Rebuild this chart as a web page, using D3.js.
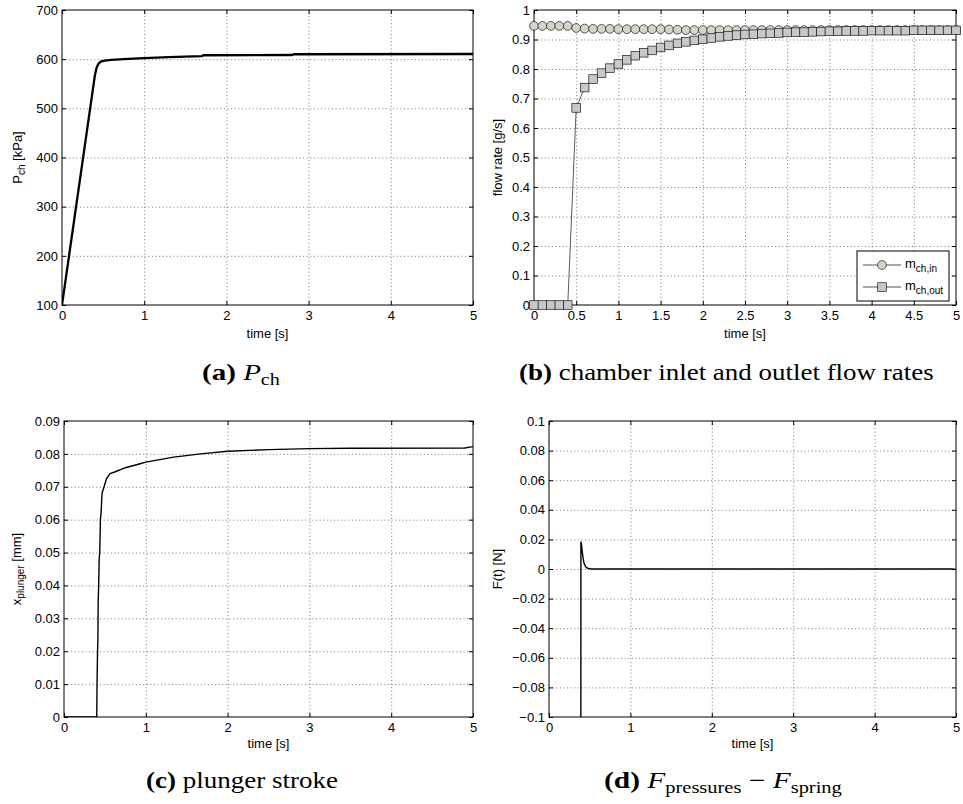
<!DOCTYPE html>
<html>
<head>
<meta charset="utf-8">
<script src="https://cdn.jsdelivr.net/npm/d3@7"></script>
<style>
  body { margin: 0; background: #fff; }
  svg { display: block; }
</style>
</head>
<body>
<svg id="fig" width="963" height="804"></svg>
<script>
// ---------- data ----------
// (a) chamber pressure [kPa] vs time [s]
const timeA = [0, 0.4, 0.42, 0.44, 0.47, 0.52, 0.6, 0.75, 1.0, 1.3, 1.7, 1.72, 2.8, 2.82, 5];
const pressA = [100, 567, 582, 590, 595, 597, 598.5, 600, 602, 604, 606, 608, 608.5, 610, 610.5];

// (b) chamber inlet / outlet flow rates [g/s], sampled every 0.1 s
const timeB = [0, 0.1, 0.2, 0.3, 0.4, 0.5, 0.6, 0.7, 0.8, 0.9,
               1.0, 1.1, 1.2, 1.3, 1.4, 1.5, 1.6, 1.7, 1.8, 1.9,
               2.0, 2.1, 2.2, 2.3, 2.4, 2.5, 2.6, 2.7, 2.8, 2.9,
               3.0, 3.1, 3.2, 3.3, 3.4, 3.5, 3.6, 3.7, 3.8, 3.9,
               4.0, 4.1, 4.2, 4.3, 4.4, 4.5, 4.6, 4.7, 4.8, 4.9, 5.0];
const flowIn = [0.946, 0.946, 0.946, 0.946, 0.946, 0.939, 0.937, 0.936, 0.936, 0.936,
                0.935, 0.935, 0.935, 0.935, 0.935, 0.935, 0.934, 0.933, 0.932, 0.932,
                0.932, 0.932, 0.932, 0.932, 0.932, 0.932, 0.932, 0.932, 0.932, 0.932,
                0.932, 0.932, 0.932, 0.932, 0.932, 0.932, 0.932, 0.932, 0.932, 0.932,
                0.932, 0.932, 0.932, 0.932, 0.932, 0.932, 0.932, 0.932, 0.932, 0.932, 0.932];
const flowOut = [0, 0, 0, 0, 0, 0.668, 0.737, 0.766, 0.786, 0.803,
                 0.817, 0.831, 0.845, 0.855, 0.863, 0.873, 0.880, 0.887, 0.892, 0.897,
                 0.901, 0.905, 0.909, 0.912, 0.915, 0.917, 0.918, 0.920, 0.921, 0.922,
                 0.924, 0.925, 0.925, 0.926, 0.927, 0.928, 0.928, 0.929, 0.929, 0.929,
                 0.930, 0.930, 0.930, 0.930, 0.930, 0.931, 0.931, 0.931, 0.931, 0.931, 0.931];

// (c) plunger stroke [mm]
const timeC = [0, 0.4, 0.401, 0.404, 0.41, 0.414, 0.418, 0.424, 0.43, 0.437, 0.445, 0.453, 0.465, 0.49, 0.52,
               0.563, 0.62, 0.75, 0.93, 1.0, 1.34, 1.67, 2.0, 2.5, 3.0, 3.5, 4.9, 5.0];
const strokeC = [0, 0, 0.002, 0.01, 0.02, 0.023, 0.035, 0.04, 0.048, 0.05, 0.06, 0.062, 0.068, 0.07, 0.0725,
                 0.074, 0.0745, 0.0758, 0.077, 0.0775, 0.079, 0.08, 0.0808, 0.0813, 0.0816, 0.0817, 0.0818, 0.0822];

// (d) net force F_pressures - F_spring [N]
const timeD = [0, 0.39, 0.392, 0.40, 0.41, 0.42, 0.43, 0.45, 0.48, 0.525, 4.95, 5.0];
const forceD = [-0.5, -0.5, 0.0185, 0.016, 0.011, 0.007, 0.004, 0.0015, 0.0003, 0, 0, -0.0003];

// tick values
const ticksAx = [0, 1, 2, 3, 4, 5];
const ticksAy = [100, 200, 300, 400, 500, 600, 700];
const ticksBx = [0, 0.5, 1, 1.5, 2, 2.5, 3, 3.5, 4, 4.5, 5];
const ticksBy = [0, 0.1, 0.2, 0.3, 0.4, 0.5, 0.6, 0.7, 0.8, 0.9, 1];
const ticksCx = [0, 1, 2, 3, 4, 5];
const ticksCy = [0, 0.01, 0.02, 0.03, 0.04, 0.05, 0.06, 0.07, 0.08, 0.09];
const ticksDx = [0, 1, 2, 3, 4, 5];
const ticksDy = [-0.1, -0.08, -0.06, -0.04, -0.02, 0, 0.02, 0.04, 0.06, 0.08, 0.1];

const legendLabels = [["m", "ch,in"], ["m", "ch,out"]];

// ---------- drawing ----------
const SANS = '"Liberation Sans", Arial, Helvetica, sans-serif';
const SERIF = '"Liberation Serif", "DejaVu Serif", serif';
const svg = d3.select("#fig");
const fmtNum = d => String(d).replace("-", "\u2212");

function makePanel(id, box, xDom, yDom, xTicks, yTicks) {
  const x = d3.scaleLinear().domain(xDom).range([box.l, box.r]);
  const y = d3.scaleLinear().domain(yDom).range([box.b, box.t]);
  const w = box.r - box.l, h = box.b - box.t;
  const g = svg.append("g").attr("class", "panel-" + id);

  // dotted grid
  const gx = g.append("g").attr("transform", `translate(0,${box.b})`)
    .call(d3.axisBottom(x).tickValues(xTicks.slice(1, -1)).tickSize(-h).tickFormat(""));
  const gy = g.append("g").attr("transform", `translate(${box.l},0)`)
    .call(d3.axisLeft(y).tickValues(yTicks.slice(1, -1)).tickSize(-w).tickFormat(""));
  [gx, gy].forEach(s => {
    s.select(".domain").remove();
    s.selectAll("line").attr("stroke", "#555").attr("stroke-width", 0.8).attr("stroke-dasharray", "1,2.6");
  });

  // frame
  g.append("rect").attr("x", box.l).attr("y", box.t).attr("width", w).attr("height", h)
    .attr("fill", "none").attr("stroke", "#000").attr("stroke-width", 1);

  // inward ticks on all four sides, labels bottom/left
  const axes = [
    g.append("g").attr("transform", `translate(0,${box.b})`)
      .call(d3.axisBottom(x).tickValues(xTicks).tickSizeInner(-4).tickSizeOuter(0).tickPadding(6).tickFormat(fmtNum)),
    g.append("g").attr("transform", `translate(${box.l},0)`)
      .call(d3.axisLeft(y).tickValues(yTicks).tickSizeInner(-4).tickSizeOuter(0).tickPadding(4).tickFormat(fmtNum)),
    g.append("g").attr("transform", `translate(0,${box.t})`)
      .call(d3.axisTop(x).tickValues(xTicks).tickSizeInner(-4).tickSizeOuter(0).tickFormat("")),
    g.append("g").attr("transform", `translate(${box.r},0)`)
      .call(d3.axisRight(y).tickValues(yTicks).tickSizeInner(-4).tickSizeOuter(0).tickFormat(""))
  ];
  axes.forEach(a => {
    a.select(".domain").remove();
    a.attr("font-family", SANS).attr("font-size", 13);
    a.selectAll("line").attr("stroke", "#000");
    a.selectAll("text").attr("fill", "#000");
  });

  g.append("clipPath").attr("id", "clip-" + id)
    .append("rect").attr("x", box.l).attr("y", box.t).attr("width", w).attr("height", h);

  return { x, y, g, box };
}

function xLabel(p, baseline) {
  p.g.append("text").attr("x", (p.box.l + p.box.r) / 2).attr("y", baseline)
    .attr("text-anchor", "middle").attr("font-family", SANS).attr("font-size", 13)
    .text("time [s]");
}

// rotated y label; parts: [text, isSubscript]
function yLabel(p, xBase, parts) {
  const cy = (p.box.t + p.box.b) / 2;
  const t = p.g.append("text")
    .attr("transform", `translate(${xBase},${cy}) rotate(-90)`)
    .attr("text-anchor", "middle").attr("font-family", SANS).attr("font-size", 13);
  let shifted = 0;
  parts.forEach(([s, sub]) => {
    const ts = t.append("tspan").text(s);
    if (sub) { ts.attr("font-size", 10).attr("dy", 3); shifted = 3; }
    else if (shifted) { ts.attr("dy", -shifted); shifted = 0; }
  });
}

// caption under a panel, fitted to a given width
function caption(x0, width, baseline, parts) {
  const t = svg.append("text").attr("font-family", SERIF).attr("font-size", 23).attr("fill", "#000");
  let shifted = 0;
  parts.forEach(p => {
    const ts = t.append("tspan").text(p.t);
    if (p.b) ts.attr("font-weight", "bold");
    if (p.i) ts.attr("font-style", "italic");
    if (p.sub) { ts.attr("font-size", 16).attr("dy", 5); shifted = 5; }
    else if (shifted) { ts.attr("dy", -shifted); shifted = 0; }
  });
  const bb = t.node().getBBox();
  const sx = width / bb.width;
  t.attr("transform", `translate(${x0 - bb.x * sx},${baseline}) scale(${sx},1)`);
}

// ---- (a) ----
const pA = makePanel("a", { l: 62, r: 473, t: 10, b: 305 }, [0, 5], [100, 700], ticksAx, ticksAy);
pA.g.append("path").datum(d3.zip(timeA, pressA))
  .attr("clip-path", "url(#clip-a)")
  .attr("fill", "none").attr("stroke", "#000").attr("stroke-width", 2.3).attr("stroke-linejoin", "round")
  .attr("d", d3.line().x(d => pA.x(d[0])).y(d => pA.y(d[1])));
xLabel(pA, 338);
yLabel(pA, 22, [["P", false], ["ch", true], [" [kPa]", false]]);

// ---- (b) ----
const pB = makePanel("b", { l: 534, r: 956, t: 10, b: 305 }, [0, 5], [0, 1], ticksBx, ticksBy);
const lineB = d3.line().x(d => pB.x(d[0])).y(d => pB.y(d[1]));
const seriesIn = d3.zip(timeB, flowIn);
const seriesOut = d3.zip(timeB, flowOut);
const circleFill = "#d7d3c8", squareFill = "#c8c8c8", edge = "#1a1a1a";
const R = 4.4, S = 8.6;

pB.g.append("path").datum(seriesIn).attr("fill", "none").attr("stroke", "#333").attr("stroke-width", 0.8).attr("d", lineB);
pB.g.append("g").selectAll("circle").data(seriesIn).join("circle")
  .attr("cx", d => pB.x(d[0])).attr("cy", d => pB.y(d[1])).attr("r", R)
  .attr("fill", circleFill).attr("stroke", edge).attr("stroke-width", 0.7);

pB.g.append("path").datum(seriesOut).attr("fill", "none").attr("stroke", "#333").attr("stroke-width", 0.8).attr("d", lineB);
pB.g.append("g").selectAll("rect").data(seriesOut).join("rect")
  .attr("x", d => pB.x(d[0]) - S / 2).attr("y", d => pB.y(d[1]) - S / 2)
  .attr("width", S).attr("height", S)
  .attr("fill", squareFill).attr("stroke", edge).attr("stroke-width", 0.7);
xLabel(pB, 338);
yLabel(pB, 502, [["flow rate [g/s]", false]]);

// legend
const lg = pB.g.append("g");
lg.append("rect").attr("x", 857).attr("y", 251).attr("width", 92).attr("height", 50)
  .attr("fill", "#fff").attr("stroke", "#000").attr("stroke-width", 1);
legendLabels.forEach((lab, i) => {
  const cy = 265 + i * 22;
  lg.append("line").attr("x1", 863).attr("x2", 901).attr("y1", cy).attr("y2", cy)
    .attr("stroke", "#555").attr("stroke-width", 1);
  if (i === 0) {
    lg.append("circle").attr("cx", 882).attr("cy", cy).attr("r", R)
      .attr("fill", circleFill).attr("stroke", edge).attr("stroke-width", 0.7);
  } else {
    lg.append("rect").attr("x", 882 - S / 2).attr("y", cy - S / 2).attr("width", S).attr("height", S)
      .attr("fill", squareFill).attr("stroke", edge).attr("stroke-width", 0.7);
  }
  const t = lg.append("text").attr("x", 905).attr("y", cy + 3).attr("font-family", SANS).attr("font-size", 13);
  t.append("tspan").text(lab[0]);
  t.append("tspan").text(lab[1]).attr("font-size", 10).attr("dy", 4);
});

// ---- (c) ----
const pC = makePanel("c", { l: 64, r: 473, t: 421, b: 717 }, [0, 5], [0, 0.09], ticksCx, ticksCy);
pC.g.append("path").datum(d3.zip(timeC, strokeC))
  .attr("clip-path", "url(#clip-c)")
  .attr("fill", "none").attr("stroke", "#000").attr("stroke-width", 1.4)
  .attr("d", d3.line().x(d => pC.x(d[0])).y(d => pC.y(d[1])));
xLabel(pC, 748);
yLabel(pC, 21, [["x", false], ["plunger", true], [" [mm]", false]]);

// ---- (d) ----
const pD = makePanel("d", { l: 549, r: 956, t: 421, b: 717 }, [0, 5], [-0.1, 0.1], ticksDx, ticksDy);
pD.g.append("path").datum(d3.zip(timeD, forceD))
  .attr("clip-path", "url(#clip-d)")
  .attr("fill", "none").attr("stroke", "#000").attr("stroke-width", 1.4)
  .attr("d", d3.line().x(d => pD.x(d[0])).y(d => pD.y(d[1])));
xLabel(pD, 748);
yLabel(pD, 502, [["F(t) [N]", false]]);

// ---- captions ----
caption(202, 78, 380, [{ t: "(a)", b: true }, { t: " " }, { t: "P", i: true }, { t: "ch", sub: true }]);
caption(519, 415, 380, [{ t: "(b)", b: true }, { t: " chamber inlet and outlet flow rates" }]);
caption(146, 192, 788, [{ t: "(c)", b: true }, { t: " plunger stroke" }]);
caption(604, 238, 788, [{ t: "(d)", b: true }, { t: " " }, { t: "F", i: true }, { t: "pressures", sub: true },
                        { t: " \u2212 " }, { t: "F", i: true }, { t: "spring", sub: true }]);
</script>
</body>
</html>
